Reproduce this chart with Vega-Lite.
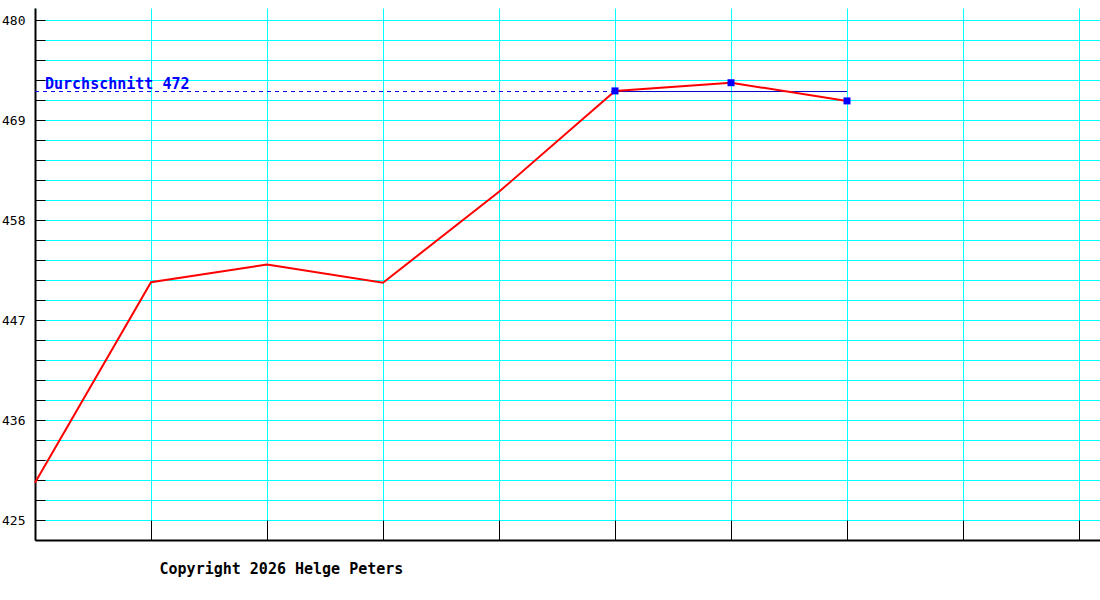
{
  "$schema": "https://vega.github.io/schema/vega-lite/v6.json",
  "width": 1065,
  "height": 532,
  "autosize": "none",
  "padding": {"left": 35, "top": 8, "right": 0, "bottom": 60},
  "background": "white",
  "config": {
    "view": {"stroke": null},
    "font": "DejaVu Sans Mono"
  },
  "title": {
    "text": "Copyright 2026 Helge Peters",
    "orient": "bottom",
    "anchor": "start",
    "dx": 158,
    "offset": 21,
    "font": "DejaVu Sans Mono",
    "fontSize": 15,
    "fontWeight": "bold",
    "color": "black"
  },
  "datasets": {
    "werte": [
      {"monat": 0, "wert": 429.1},
      {"monat": 1, "wert": 451.15},
      {"monat": 2, "wert": 453.1},
      {"monat": 3, "wert": 451.1},
      {"monat": 4, "wert": 461.1},
      {"monat": 5, "wert": 472.2},
      {"monat": 6, "wert": 473.1},
      {"monat": 7, "wert": 471.1}
    ],
    "schnitt": [
      {"monat": 0, "bis": 5, "wert": 472.13, "art": "gestrichelt"},
      {"monat": 5, "bis": 7, "wert": 472.13, "art": "durchgehend"}
    ]
  },
  "encoding": {
    "x": {
      "field": "monat", "type": "quantitative",
      "scale": {"domain": [0, 9.18103448], "nice": false, "zero": false},
      "axis": {
        "values": [0, 1, 2, 3, 4, 5, 6, 7, 8, 9],
        "tickCount": 100,
        "labels": false, "title": null,
        "tickSize": -20, "tickColor": "black", "tickWidth": 1,
        "domainColor": "black", "domainWidth": 2,
        "grid": true, "gridColor": "#00ffff", "gridOpacity": 1, "gridWidth": 1
      }
    },
    "y": {
      "field": "wert", "type": "quantitative",
      "scale": {"domain": [422.8, 481.32], "nice": false, "zero": false},
      "axis": {
        "values": [425, 427.2, 429.4, 431.6, 433.8, 436, 438.2, 440.4, 442.6, 444.8, 447, 449.2, 451.4, 453.6, 455.8, 458, 460.2, 462.4, 464.6, 466.8, 469, 471.2, 473.4, 475.6, 477.8, 480],
        "tickCount": 100,
        "labelExpr": "indexof([425, 436, 447, 458, 469, 480], datum.value) >= 0 ? datum.label : ''",
        "labelOverlap": false,
        "format": "d",
        "title": null,
        "tickSize": -10, "tickColor": "black", "tickWidth": 1,
        "labelPadding": 20,
        "labelFont": "DejaVu Sans Mono", "labelFontSize": 13, "labelColor": "black",
        "domainColor": "black", "domainWidth": 2,
        "grid": true, "gridColor": "#00ffff", "gridOpacity": 1, "gridWidth": 1
      }
    }
  },
  "layer": [
    {
      "data": {"name": "schnitt"},
      "transform": [{"filter": "datum.art == 'gestrichelt'"}],
      "mark": {"type": "rule", "color": "#0000ff", "strokeWidth": 1, "strokeDash": [4, 4]},
      "encoding": {
        "x2": {"field": "bis"}
      }
    },
    {
      "data": {"name": "schnitt"},
      "transform": [{"filter": "datum.art == 'durchgehend'"}],
      "mark": {"type": "rule", "color": "#0000cc", "strokeWidth": 1},
      "encoding": {
        "x2": {"field": "bis"}
      }
    },
    {
      "data": {"name": "schnitt"},
      "transform": [{"filter": "datum.art == 'gestrichelt'"}],
      "mark": {"type": "text", "align": "left", "baseline": "alphabetic", "dx": 10, "dy": -3,
               "font": "DejaVu Sans Mono", "fontSize": 15, "fontWeight": "bold", "color": "#0000ff"},
      "encoding": {
        "text": {"value": "Durchschnitt 472"}
      }
    },
    {
      "data": {"name": "werte"},
      "mark": {"type": "line", "color": "#ff0000", "strokeWidth": 2},
      "encoding": {}
    },
    {
      "data": {"name": "werte"},
      "transform": [{"filter": "datum.monat >= 5"}],
      "mark": {"type": "square", "color": "#0000ff", "opacity": 1, "size": 49},
      "encoding": {}
    }
  ]
}
